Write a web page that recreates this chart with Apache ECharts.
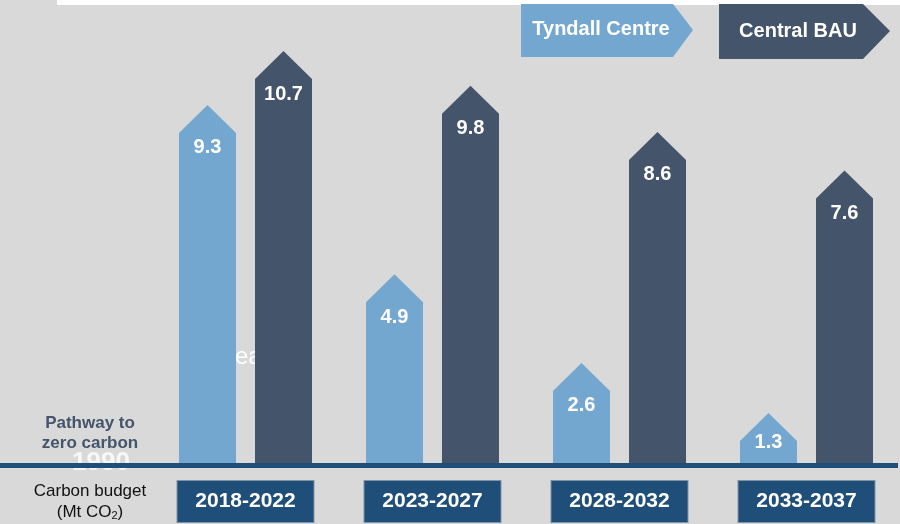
<!DOCTYPE html>
<html>
<head>
<meta charset="utf-8">
<script src="https://cdn.jsdelivr.net/npm/echarts@6/dist/echarts.min.js"></script>
<style>
  html, body { margin: 0; padding: 0; background: #d9d9d9; }
  #main { width: 900px; height: 524px; }
</style>
</head>
<body>
<div id="main"></div>
<script>
var categories = ['2018-2022', '2023-2027', '2028-2032', '2033-2037']
var tyndall = [9.3, 4.9, 2.6, 1.3]
var centralBAU = [10.7, 9.8, 8.6, 7.6]
var seriesNames = ['Tyndall Centre', 'Central BAU']

var FONT = '"Liberation Sans", Arial, sans-serif'
var LIGHT = '#73a7cf'
var DARK = '#44546a'
var NAVY = '#1f4e79'

// arrow shaped bar, offset from the category centre
function arrowItem (offset, color) {
  return function (params, api) {
    var top = api.coord([api.value(0), api.value(1)])
    var base = api.coord([api.value(0), 0])
    var cx = top[0] + offset
    var hw = 28.5
    var head = Math.min(28, base[1] - top[1])
    var labelY = top[1] + Math.min(43, (base[1] - top[1]) * 0.6)
    return {
      type: 'group',
      children: [{
        type: 'polygon',
        shape: {
          points: [
            [cx - hw, base[1]], [cx - hw, top[1] + head], [cx, top[1]],
            [cx + hw, top[1] + head], [cx + hw, base[1]]
          ]
        },
        style: { fill: color }
      }, {
        type: 'text',
        x: cx,
        y: labelY,
        style: {
          text: api.value(1).toFixed(1),
          fill: '#fff',
          font: 'bold 20px ' + FONT,
          textAlign: 'center',
          textVerticalAlign: 'middle'
        }
      }]
    }
  }
}

function pairs (vals) {
  return vals.map(function (v, i) { return [i, v] })
}

var myChart = echarts.init(document.getElementById('main'))
var option = {
  backgroundColor: '#d9d9d9',
  animation: false,
  grid: { left: 152, top: 1, width: 751, bottom: 61 },
  xAxis: {
    type: 'category',
    data: categories,
    axisLine: { show: false },
    axisTick: { show: false },
    axisLabel: {
      interval: 0,
      margin: 18,
      color: '#fff',
      fontFamily: FONT,
      fontWeight: 'bold',
      fontSize: 21,
      backgroundColor: NAVY,
      borderColor: '#7f93a8',
      borderWidth: 1,
      width: 136,
      height: 41,
      lineHeight: 41,
      align: 'center'
    }
  },
  yAxis: {
    type: 'value',
    min: 0,
    max: 12,
    show: false
  },
  graphic: [
    // white strip at the top
    { type: 'rect', z: 0, shape: { x: 57, y: 0, width: 843, height: 5 }, style: { fill: '#fff' } },
    // legend arrows
    {
      type: 'polygon', z: 1,
      shape: { points: [[521, 4], [673, 4], [693, 30], [673, 57], [521, 57]] },
      style: { fill: LIGHT }
    },
    {
      type: 'text', z: 2, x: 601, y: 29,
      style: { text: seriesNames[0], fill: '#fff', font: 'bold 20px ' + FONT, textAlign: 'center', textVerticalAlign: 'middle' }
    },
    {
      type: 'polygon', z: 1,
      shape: { points: [[719, 4], [863, 4], [890, 31], [863, 59], [719, 59]] },
      style: { fill: DARK }
    },
    {
      type: 'text', z: 2, x: 798, y: 31,
      style: { text: seriesNames[1], fill: '#fff', font: 'bold 20px ' + FONT, textAlign: 'center', textVerticalAlign: 'middle' }
    },
    // leftover text behind the bars
    {
      type: 'text', z: 0, x: 235, y: 357,
      style: { text: 'ea', fill: '#fff', font: '24px ' + FONT, textAlign: 'left', textVerticalAlign: 'middle' }
    },
    {
      type: 'text', z: 3, x: 101, y: 463,
      style: { text: '1990', fill: '#f7f7f7', font: 'bold 26px ' + FONT, textAlign: 'center', textVerticalAlign: 'middle' }
    },
    // baseline
    {
      type: 'line', z: 10,
      shape: { x1: 0, y1: 465.5, x2: 898, y2: 465.5 },
      style: { stroke: NAVY, lineWidth: 5 }
    },
    {
      type: 'text', z: 11, x: 90, y: 433,
      style: {
        text: 'Pathway to\nzero carbon',
        fill: DARK,
        font: 'bold 17px ' + FONT,
        lineHeight: 20,
        textAlign: 'center',
        textVerticalAlign: 'middle'
      }
    },
    {
      type: 'text', z: 11, x: 90, y: 491,
      style: { text: 'Carbon budget', fill: '#111', font: '17px ' + FONT, textAlign: 'center', textVerticalAlign: 'middle' }
    },
    {
      type: 'text', z: 11, x: 90, y: 512,
      style: {
        text: '{a|(Mt CO}{s|2}{a|)}',
        textAlign: 'center',
        textVerticalAlign: 'middle',
        rich: {
          a: { fontSize: 17, fontFamily: FONT, fill: '#111', height: 20 },
          s: { fontSize: 11, fontFamily: FONT, fill: '#111', height: 20, padding: [8, 0, 0, 0] }
        }
      }
    }
  ],
  series: [
    {
      name: seriesNames[0],
      type: 'custom',
      z: 2,
      renderItem: arrowItem(-38, LIGHT),
      encode: { x: 0, y: 1 },
      data: pairs(tyndall)
    },
    {
      name: seriesNames[1],
      type: 'custom',
      z: 2,
      renderItem: arrowItem(38, DARK),
      encode: { x: 0, y: 1 },
      data: pairs(centralBAU)
    }
  ]
}
myChart.setOption(option)
</script>
</body>
</html>
